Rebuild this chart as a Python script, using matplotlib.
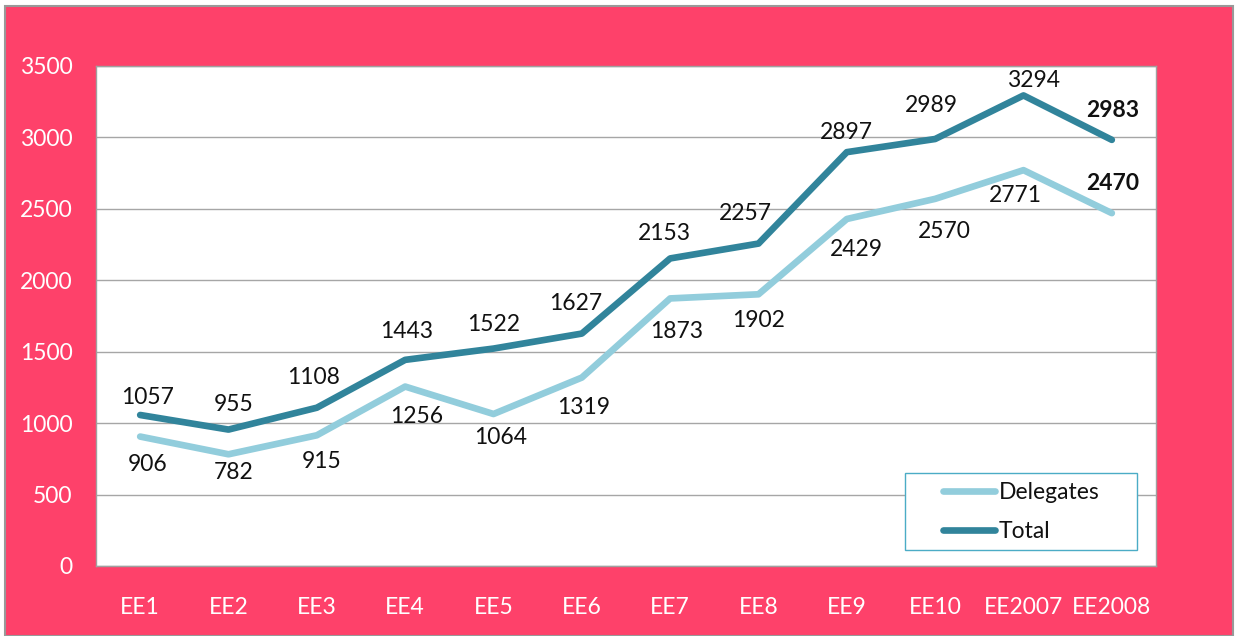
import matplotlib
matplotlib.use('Agg')
import matplotlib.pyplot as plt
from matplotlib.patches import Rectangle

plt.rcParams['font.family'] = ['Lato', 'DejaVu Sans']

# datos del grafico
categorias = ['EE1', 'EE2', 'EE3', 'EE4', 'EE5', 'EE6', 'EE7', 'EE8', 'EE9', 'EE10', 'EE2007', 'EE2008']
delegados = [906, 782, 915, 1256, 1064, 1319, 1873, 1902, 2429, 2570, 2771, 2470]
total = [1057, 955, 1108, 1443, 1522, 1627, 2153, 2257, 2897, 2989, 3294, 2983]

# desplazamiento de etiquetas en pixeles (dx, dy)
desp_total = [(7, 18), (5, 25), (-3, 30), (1, 28), (0, 24), (-6, 30),
              (-6, 25), (-13, 30), (0, 20), (-4, 33), (10, 15), (1, 29)]
desp_deleg = [(7, -28), (5, -18), (5, -26), (12, -30), (7, -23), (2, -30),
              (6, -33), (0, -26), (10, -31), (9, -33), (-8, -25), (1, 30)]

rosa = '#FE416A'
claro = '#92CDDC'
oscuro = '#31849B'
W, H = 1235, 636

fig = plt.figure(figsize=(12.35, 6.36), dpi=100)
fig.patch.set_facecolor('white')
fondo = Rectangle((5 / W, 0), 1228 / W, 630 / H, transform=fig.transFigure,
                  facecolor=rosa, edgecolor='#999999', linewidth=1.5, zorder=-10)
fig.add_artist(fondo)

ax = fig.add_axes([96 / W, 1 - 566 / H, 1060 / W, 500 / H])
ax.set_facecolor('white')

x = list(range(len(categorias)))
ax.plot(x, delegados, color=claro, lw=4.8, label='Delegates', solid_capstyle='round', zorder=3)
ax.plot(x, total, color=oscuro, lw=4.8, label='Total', solid_capstyle='round', zorder=3)

for i in x:
    peso = 'bold' if i == len(x) - 1 else 'normal'
    ax.annotate(str(total[i]), (i, total[i]), xytext=desp_total[i], textcoords='offset pixels',
                ha='center', va='center', fontsize=16.5, color='#111111', fontweight=peso)
    ax.annotate(str(delegados[i]), (i, delegados[i]), xytext=desp_deleg[i], textcoords='offset pixels',
                ha='center', va='center', fontsize=16.5, color='#111111', fontweight=peso)

ax.set_xlim(-0.5, len(categorias) - 0.5)
ax.set_ylim(0, 3500)
ax.set_yticks(range(0, 3501, 500))
ax.set_xticks(x)
ax.set_xticklabels(categorias)
ax.tick_params(axis='both', length=0, labelcolor='white', labelsize=16.5)
ax.tick_params(axis='y', pad=17)
ax.tick_params(axis='x', pad=22)
ax.yaxis.grid(True, color='#A6A6A6', lw=1)
ax.set_axisbelow(True)
for s in ax.spines.values():
    s.set_color('#A0A0A0')
    s.set_linewidth(1)

# caja de la leyenda
caja = Rectangle((905 / W, 1 - 550 / H), 232 / W, 77 / H, transform=fig.transFigure,
                 facecolor='white', edgecolor='#4BACC6', linewidth=1, zorder=4, clip_on=False)
ax.add_patch(caja)
leg = ax.legend(loc='center', bbox_to_anchor=(1021 / W, 1 - 512 / H),
                bbox_transform=fig.transFigure, fontsize=16.5, frameon=False,
                handlelength=2.3, handletextpad=0.15, borderaxespad=0,
                labelspacing=0.75, borderpad=0)
leg.set_zorder(5)
for t in leg.get_texts():
    t.set_color('#111111')

plt.savefig('out.png', dpi=100, facecolor=fig.get_facecolor())
